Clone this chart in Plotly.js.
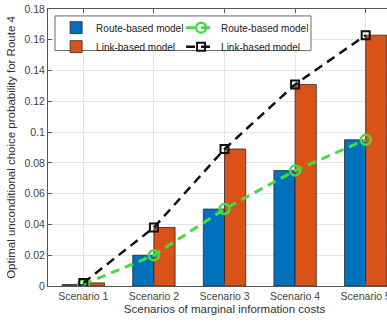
<!DOCTYPE html>
<html>
<head>
<meta charset="utf-8">
<script src="https://cdn.plot.ly/plotly-3.0.1.min.js"></script>
<style>
  html, body { margin: 0; padding: 0; overflow: hidden; background: #fff; }
  #chart { width: 420px; height: 323px; }
</style>
</head>
<body>
<div id="chart"></div>
<script>
// Scenario labels along the x axis
const scenarios = ['Scenario 1', 'Scenario 2', 'Scenario 3', 'Scenario 4', 'Scenario 5'];

// Optimal unconditional choice probability for Route 4
const routeBased = [0.001, 0.020, 0.050, 0.075, 0.095];
const linkBased  = [0.002, 0.038, 0.089, 0.131, 0.163];

// Y axis ticks
const yTickVals = [0, 0.02, 0.04, 0.06, 0.08, 0.1, 0.12, 0.14, 0.16, 0.18];
const yTickText = ['0', '0.02', '0.04', '0.06', '0.08', '0.1', '0.12', '0.14', '0.16', '0.18'];

const FONT = 'Liberation Sans, Arial, sans-serif';
const BLUE = '#0072BD';
const ORANGE = '#D95319';
const GREEN = '#44dc44';

const traces = [
  {
    type: 'bar', name: 'Route-based model', x: scenarios, y: routeBased,
    marker: { color: BLUE, line: { color: '#2a2a2a', width: 0.8 } },
    legend: 'legend'
  },
  {
    type: 'bar', name: 'Link-based model', x: scenarios, y: linkBased,
    marker: { color: ORANGE, line: { color: '#2a2a2a', width: 0.8 } },
    legend: 'legend'
  },
  {
    type: 'scatter', mode: 'lines+markers', name: 'Route-based model',
    x: scenarios, y: routeBased,
    line: { color: GREEN, width: 3, dash: '9px,6px' },
    marker: { symbol: 'circle-open', size: 10, color: GREEN, line: { width: 2.5, color: GREEN } },
    legend: 'legend2'
  },
  {
    type: 'scatter', mode: 'lines+markers', name: 'Link-based model',
    x: scenarios, y: linkBased,
    line: { color: '#111', width: 2.5, dash: '9px,6px' },
    marker: { symbol: 'square-open', size: 8, color: '#111', line: { width: 2, color: '#111' } },
    legend: 'legend2'
  }
];

const axisCommon = {
  showline: true, linecolor: '#555', linewidth: 1, mirror: 'ticks',
  ticks: 'inside', ticklen: 4, tickcolor: '#555',
  showgrid: true, gridcolor: '#e6e6e6', gridwidth: 1,
  zeroline: false,
  tickfont: { family: FONT, size: 10.5, color: '#444' }
};

const legendFont = { family: FONT, size: 10, color: '#222' };

const layout = {
  width: 420, height: 323,
  margin: { l: 48, r: 19, t: 9, b: 37 },
  paper_bgcolor: '#fff', plot_bgcolor: '#fff',
  font: { family: FONT, color: '#222' },
  barmode: 'group', bargap: 0.4, bargroupgap: 0,
  showlegend: true,
  xaxis: Object.assign({}, axisCommon, {
    type: 'category',
    range: [-0.5, 4.5],
    title: { text: 'Scenarios of marginal information costs', font: { family: FONT, size: 11.5, color: '#333' }, standoff: 4 }
  }),
  yaxis: Object.assign({}, axisCommon, {
    range: [0, 0.18],
    tickvals: yTickVals, ticktext: yTickText,
    title: { text: 'Optimal unconditional choice probability for Route 4', font: { family: FONT, size: 11.5, color: '#333' }, standoff: 6 }
  }),
  legend: {
    x: 0.023, y: 0.985, xanchor: 'left', yanchor: 'top',
    bgcolor: 'rgba(0,0,0,0)', borderwidth: 0,
    font: legendFont, tracegroupgap: 0, traceorder: 'normal'
  },
  legend2: {
    x: 0.377, y: 0.985, xanchor: 'left', yanchor: 'top',
    bgcolor: 'rgba(0,0,0,0)', borderwidth: 0,
    font: legendFont, tracegroupgap: 0, traceorder: 'normal'
  },
  shapes: [{
    type: 'rect', xref: 'paper', yref: 'paper',
    x0: 0.0198, x1: 0.745, y0: 0.85, y1: 0.975,
    fillcolor: '#fff', line: { color: '#444', width: 0.8 }, layer: 'above'
  }]
};

Plotly.newPlot('chart', traces, layout, { displayModeBar: false, staticPlot: true });
</script>
</body>
</html>
